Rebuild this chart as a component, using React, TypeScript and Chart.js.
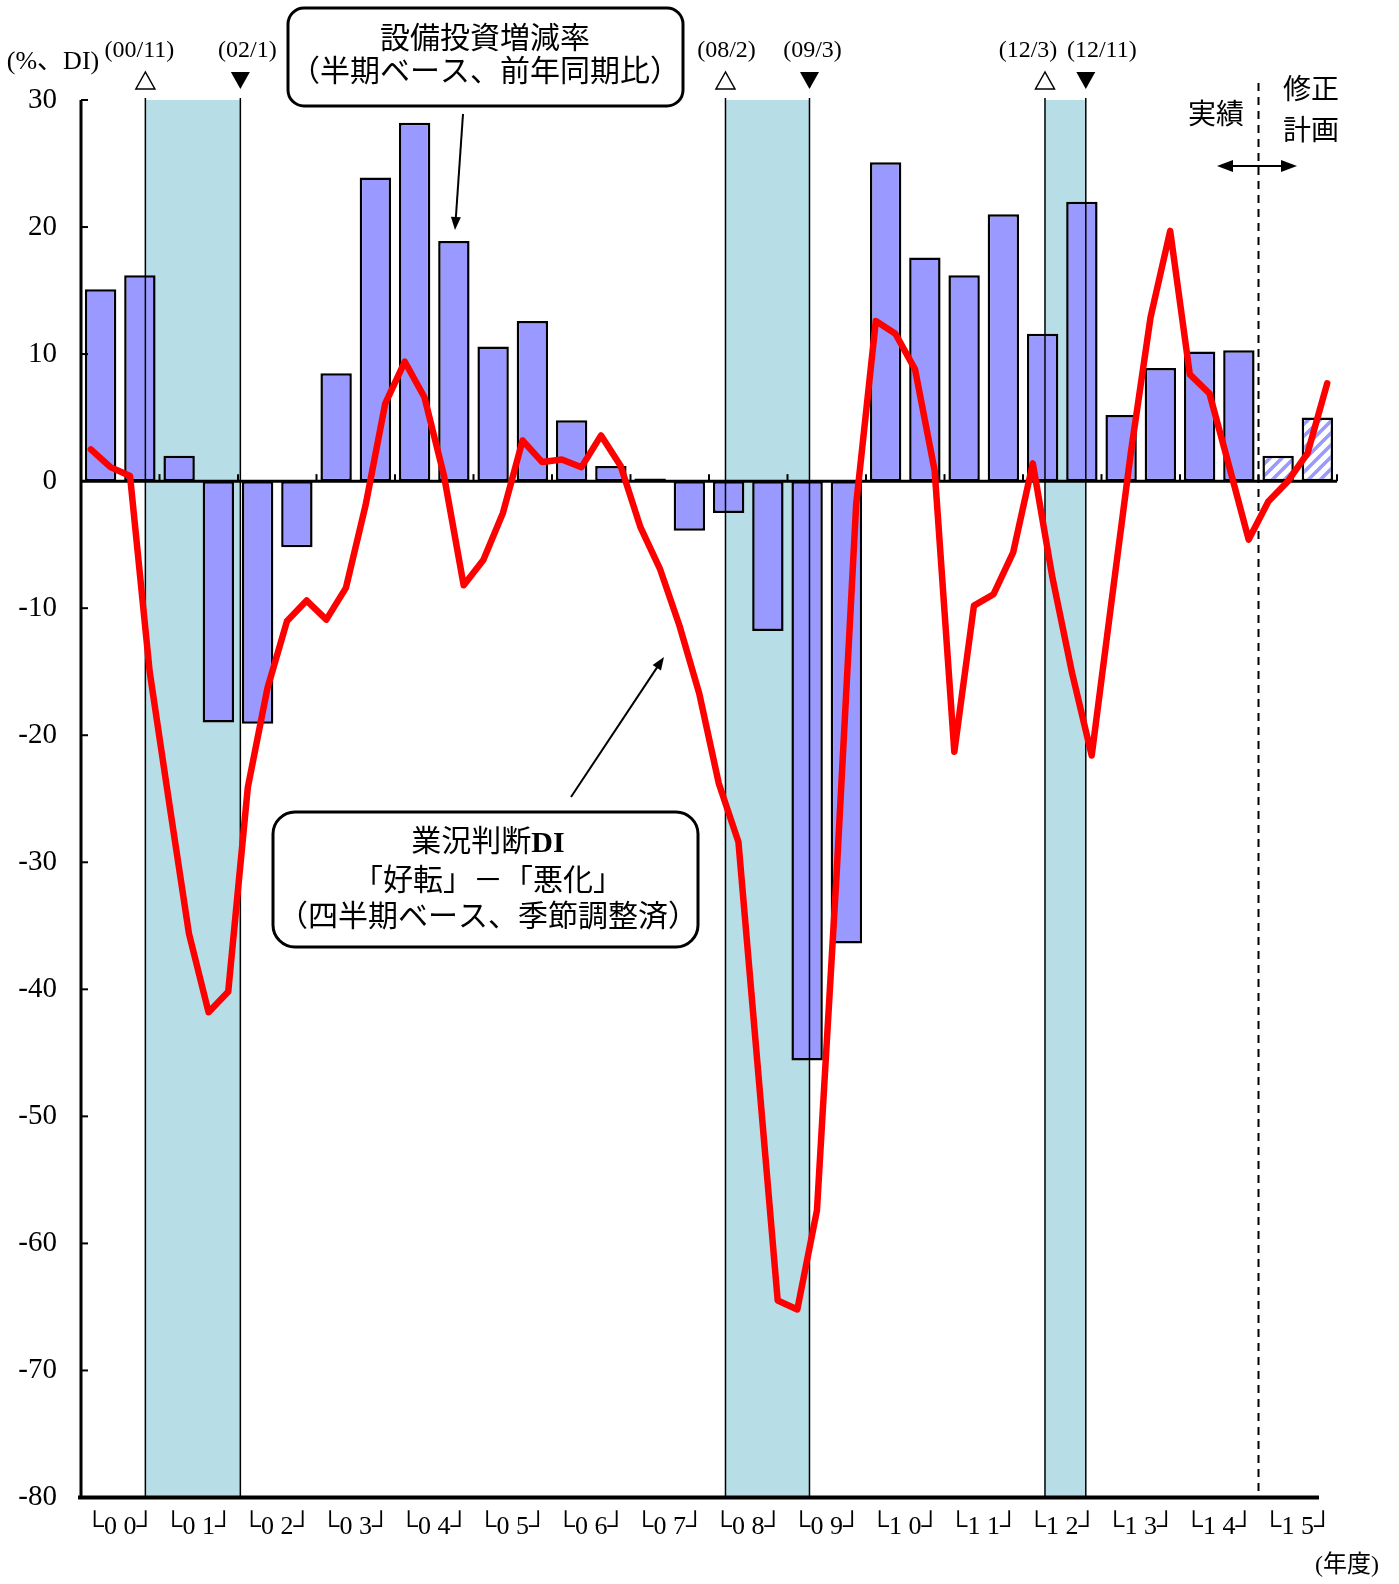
import React, { useEffect, useRef } from "react";
import { Chart, registerables } from "chart.js";

Chart.register(...registerables);

// ---------------- data ----------------
const fiscalYears = ["00", "01", "02", "03", "04", "05", "06", "07", "08", "09", "10", "11", "12", "13", "14", "15"];
const halfYearLabels = fiscalYears.flatMap((y) => [`${y}上期`, `${y}下期`]);
const quarterLabels = fiscalYears.flatMap((y) => [`${y}Q1`, `${y}Q2`, `${y}Q3`, `${y}Q4`]);
const yearTickLabels = fiscalYears.map((y) => `└${y[0]} ${y[1]}┘`);

// 設備投資増減率（半期ベース、前年同期比）
const capexGrowth = [
  15.1, 16.2, 2.0, -19.0, -19.1, -5.2, 8.5, 23.9, 28.2, 18.9,
  10.6, 12.6, 4.8, 1.2, 0.2, -3.9, -2.5, -11.8, -45.6, -36.4,
  25.1, 17.6, 16.2, 21.0, 11.6, 22.0, 5.2, 8.9, 10.2, 10.3,
  2.0, 5.0,
];
// half-years from this index onward are plans (修正計画)
const planFromHalf = 30;

// 業況判断DI（四半期ベース、季節調整済）
const businessDI = [
  2.5, 1.1, 0.4, -15.0, -25.4, -35.6, -41.8, -40.2, -24.1, -16.3,
  -11.0, -9.4, -10.9, -8.4, -1.9, 6.1, 9.4, 6.6, 0.4, -8.2,
  -6.2, -2.5, 3.2, 1.5, 1.7, 1.1, 3.6, 1.2, -3.6, -6.9,
  -11.4, -16.7, -23.8, -28.4, -46.4, -64.5, -65.2, -57.4, -31.0, -1.8,
  12.6, 11.6, 8.8, 0.8, -21.3, -9.8, -8.9, -5.6, 1.4, -7.6,
  -15.1, -21.6, -9.6, 2.3, 12.9, 19.7, 8.4, 6.9, 1.2, -4.6,
  -1.6, 0.0, 2.2, 7.7,
];

// recession periods, in fiscal-year units on the time axis (0 = start of FY2000)
const recessionStart = [0.82, 8.21, 12.28];
const recessionEnd = [2.03, 9.28, 12.8];
const peakLabels = ["(00/11)", "(08/2)", "(12/3)"];
const troughLabels = ["(02/1)", "(09/3)", "(12/11)"];
const planBoundary = 15; // 実績 | 修正計画

const yMin = -80;
const yMax = 30;
const yStep = 10;

// ---------------- styles ----------------
const W = 1399;
const H = 1584;
const SERIF = '"Liberation Serif", "DejaVu Serif", serif';
const MIXED = '"Liberation Serif", "Noto Sans CJK JP", sans-serif';
const BAR_COLOR = "#9999ff";
const SHADE = "#b7dde6";
const peakDx = [-6, 1, -17];
const troughDx = [7, 3, 16];

function roundBox(ctx: CanvasRenderingContext2D, x: number, y: number, w: number, h: number, r: number) {
  ctx.beginPath();
  ctx.moveTo(x + r, y);
  ctx.lineTo(x + w - r, y);
  ctx.arcTo(x + w, y, x + w, y + r, r);
  ctx.lineTo(x + w, y + h - r);
  ctx.arcTo(x + w, y + h, x + w - r, y + h, r);
  ctx.lineTo(x + r, y + h);
  ctx.arcTo(x, y + h, x, y + h - r, r);
  ctx.lineTo(x, y + r);
  ctx.arcTo(x, y, x + r, y, r);
  ctx.closePath();
}

function arrowHead(ctx: CanvasRenderingContext2D, x1: number, y1: number, x2: number, y2: number, len: number, half: number) {
  const ang = Math.atan2(y2 - y1, x2 - x1);
  const c = Math.cos(ang);
  const s = Math.sin(ang);
  ctx.beginPath();
  ctx.moveTo(x2, y2);
  ctx.lineTo(x2 - len * c + half * s, y2 - len * s - half * c);
  ctx.lineTo(x2 - len * c - half * s, y2 - len * s + half * c);
  ctx.closePath();
  ctx.fill();
}

function arrow(ctx: CanvasRenderingContext2D, x1: number, y1: number, x2: number, y2: number) {
  const ang = Math.atan2(y2 - y1, x2 - x1);
  ctx.beginPath();
  ctx.moveTo(x1, y1);
  ctx.lineTo(x2 - 8 * Math.cos(ang), y2 - 8 * Math.sin(ang));
  ctx.stroke();
  arrowHead(ctx, x1, y1, x2, y2, 13, 5);
}

const overlayPlugin = {
  id: "overlay",
  beforeDatasetsDraw(chart: any) {
    const { ctx, chartArea: a } = chart;
    const xr = chart.scales.xr;
    ctx.save();
    ctx.fillStyle = SHADE;
    recessionStart.forEach((s, i) => {
      const x1 = xr.getPixelForValue(s);
      const x2 = xr.getPixelForValue(recessionEnd[i]);
      ctx.fillRect(x1, a.top, x2 - x1, a.bottom - a.top);
    });
    ctx.restore();
  },
  afterDatasetDraw(chart: any, args: any) {
    if (args.index !== 0) return;
    const { ctx, chartArea: a } = chart;
    const xr = chart.scales.xr;
    const y = chart.scales.y;
    const y0 = y.getPixelForValue(0);
    ctx.save();
    ctx.strokeStyle = "#000";
    ctx.lineWidth = 1.5;
    [...recessionStart, ...recessionEnd].forEach((v) => {
      const x = xr.getPixelForValue(v);
      ctx.beginPath();
      ctx.moveTo(x, a.top - 2);
      ctx.lineTo(x, a.bottom);
      ctx.stroke();
    });
    // zero line
    ctx.lineWidth = 3;
    ctx.beginPath();
    ctx.moveTo(a.left, y0);
    ctx.lineTo(a.right, y0);
    ctx.stroke();
    // fiscal-year boundary ticks
    ctx.lineWidth = 2;
    for (let k = 1; k <= fiscalYears.length; k++) {
      const x = xr.getPixelForValue(k);
      ctx.beginPath();
      ctx.moveTo(x, y0);
      ctx.lineTo(x, y0 - 7);
      ctx.stroke();
    }
    // plan boundary (dashed)
    const xd = xr.getPixelForValue(planBoundary);
    ctx.setLineDash([8, 6]);
    ctx.lineWidth = 2;
    ctx.beginPath();
    ctx.moveTo(xd, a.top - 17);
    ctx.lineTo(xd, a.bottom);
    ctx.stroke();
    ctx.restore();
  },
  afterDraw(chart: any) {
    const { ctx, chartArea: a } = chart;
    const xr = chart.scales.xr;
    const y = chart.scales.y;
    ctx.save();
    ctx.strokeStyle = "#000";
    ctx.fillStyle = "#000";
    // y axis line + inward ticks
    ctx.lineWidth = 3;
    ctx.beginPath();
    ctx.moveTo(a.left, a.top);
    ctx.lineTo(a.left, a.bottom);
    ctx.stroke();
    ctx.lineWidth = 2;
    y.ticks.forEach((t: any) => {
      const py = y.getPixelForValue(t.value);
      ctx.beginPath();
      ctx.moveTo(a.left, py);
      ctx.lineTo(a.left + 7, py);
      ctx.stroke();
    });
    // bottom axis
    ctx.lineWidth = 4;
    ctx.beginPath();
    ctx.moveTo(a.left - 3, a.bottom);
    ctx.lineTo(a.right - 18, a.bottom);
    ctx.stroke();

    ctx.textAlign = "center";
    ctx.textBaseline = "middle";

    // unit label
    ctx.font = `26px ${MIXED}`;
    ctx.fillText("(%、DI)", 53, 62);

    // peak / trough markers
    ctx.font = `24px ${SERIF}`;
    recessionStart.forEach((v, i) => {
      const x = xr.getPixelForValue(v);
      ctx.fillText(peakLabels[i], x + peakDx[i], 51);
      ctx.beginPath();
      ctx.moveTo(x, 72);
      ctx.lineTo(x - 9.5, 89);
      ctx.lineTo(x + 9.5, 89);
      ctx.closePath();
      ctx.fillStyle = "#fff";
      ctx.fill();
      ctx.lineWidth = 1.5;
      ctx.stroke();
      ctx.fillStyle = "#000";
    });
    recessionEnd.forEach((v, i) => {
      const x = xr.getPixelForValue(v);
      ctx.fillText(troughLabels[i], x + troughDx[i], 51);
      ctx.beginPath();
      ctx.moveTo(x - 9.5, 72);
      ctx.lineTo(x + 9.5, 72);
      ctx.lineTo(x, 89);
      ctx.closePath();
      ctx.fill();
    });

    // capex label box
    ctx.lineWidth = 3;
    roundBox(ctx, 288, 8, 395, 98, 16);
    ctx.fillStyle = "#fff";
    ctx.fill();
    ctx.stroke();
    ctx.fillStyle = "#000";
    ctx.font = `30px ${MIXED}`;
    ctx.fillText("設備投資増減率", 485, 40);
    ctx.fillText("（半期ベース、前年同期比）", 485, 73);
    ctx.lineWidth = 2;
    arrow(ctx, 463, 114, 455, 230);

    // DI label box
    ctx.lineWidth = 3;
    roundBox(ctx, 273, 812, 425, 135, 22);
    ctx.fillStyle = "#fff";
    ctx.fill();
    ctx.stroke();
    ctx.fillStyle = "#000";
    ctx.font = `30px ${MIXED}`;
    const part1 = "業況判断";
    const w1 = ctx.measureText(part1).width;
    ctx.font = `bold 30px ${SERIF}`;
    const w2 = ctx.measureText("DI").width;
    const sx = 488 - (w1 + w2) / 2;
    ctx.textAlign = "left";
    ctx.font = `30px ${MIXED}`;
    ctx.fillText(part1, sx, 843);
    ctx.font = `bold 30px ${SERIF}`;
    ctx.fillText("DI", sx + w1, 844);
    ctx.textAlign = "center";
    ctx.font = `30px ${MIXED}`;
    ctx.fillText("「好転」－「悪化」", 488, 882);
    ctx.fillText("（四半期ベース、季節調整済）", 488, 918);
    ctx.lineWidth = 2;
    arrow(ctx, 571, 797, 664, 657);

    // 実績 / 修正計画
    ctx.font = `28px ${MIXED}`;
    ctx.fillText("実績", 1216, 117);
    ctx.fillText("修正", 1311, 92);
    ctx.fillText("計画", 1311, 133);
    ctx.lineWidth = 2;
    ctx.beginPath();
    ctx.moveTo(1222, 166);
    ctx.lineTo(1292, 166);
    ctx.stroke();
    arrowHead(ctx, 1257, 166, 1297, 166, 16, 6);
    arrowHead(ctx, 1257, 166, 1217, 166, 16, 6);

    // 年度
    ctx.font = `24px ${MIXED}`;
    ctx.fillText("(年度)", 1347, 1566);
    ctx.restore();
  },
};

export default function App() {
  const ref = useRef<HTMLCanvasElement>(null);

  useEffect(() => {
    const canvas = ref.current;
    if (!canvas) return;
    const pc = document.createElement("canvas");
    pc.width = 12;
    pc.height = 12;
    const p = pc.getContext("2d")!;
    p.fillStyle = "#fff";
    p.fillRect(0, 0, 12, 12);
    p.strokeStyle = BAR_COLOR;
    p.lineWidth = 3.5;
    [0, 12, 24].forEach((c) => {
      p.beginPath();
      p.moveTo(c - 14, 14);
      p.lineTo(c + 2, -2);
      p.stroke();
    });
    const pattern = canvas.getContext("2d")!.createPattern(pc, "repeat")!;
    const barFills = capexGrowth.map((_, i) => (i >= planFromHalf ? pattern : BAR_COLOR));

    const chart = new Chart(canvas, {
      type: "bar",
      data: {
        datasets: [
          {
            type: "bar",
            label: "設備投資増減率",
            data: capexGrowth,
            xAxisID: "xb",
            yAxisID: "y",
            backgroundColor: barFills as any,
            borderColor: "#000",
            borderWidth: 2.5,
            borderSkipped: false,
            barPercentage: 0.8,
            categoryPercentage: 1,
            grouped: false,
            order: 2,
          } as any,
          {
            type: "line",
            label: "業況判断DI",
            data: businessDI,
            xAxisID: "xq",
            yAxisID: "y",
            borderColor: "#ff0000",
            borderWidth: 6.5,
            pointRadius: 0,
            tension: 0,
            borderJoinStyle: "round",
            borderCapStyle: "round",
            fill: false,
            grouped: false,
            order: 1,
          } as any,
        ],
      },
      options: {
        responsive: false,
        animation: false,
        devicePixelRatio: 1,
        layout: { padding: { left: 0, top: 100, right: 62, bottom: 0 } },
        plugins: { legend: { display: false }, tooltip: { enabled: false }, title: { display: false } },
        scales: {
          xb: {
            type: "category",
            labels: halfYearLabels,
            offset: true,
            display: false,
            grid: { display: false },
          },
          xq: {
            type: "category",
            labels: quarterLabels,
            offset: true,
            display: false,
            grid: { display: false },
          },
          xr: {
            type: "linear",
            min: 0,
            max: fiscalYears.length,
            offset: false,
            display: false,
            grid: { display: false, offset: false },
          },
          xy: {
            type: "category",
            labels: yearTickLabels,
            offset: true,
            position: "bottom",
            grid: { display: false, drawTicks: false },
            border: { display: false },
            ticks: {
              color: "#000",
              font: { family: '"Liberation Serif", "DejaVu Sans", serif', size: 26 },
              padding: 14,
              autoSkip: false,
              maxRotation: 0,
            },
            afterFit: (s: any) => {
              s.height = H - 1497.5;
            },
          },
          y: {
            type: "linear",
            position: "left",
            min: yMin,
            max: yMax,
            ticks: {
              stepSize: yStep,
              color: "#000",
              font: { family: SERIF, size: 29 },
              padding: 24,
            },
            grid: { display: false, drawTicks: false },
            border: { display: false },
            afterFit: (s: any) => {
              s.width = 81;
            },
          },
        } as any,
      },
      plugins: [overlayPlugin],
    });
    return () => chart.destroy();
  }, []);

  return (
    <div style={{ position: "absolute", left: 0, top: 0, width: W, height: H, background: "#fff" }}>
      <canvas ref={ref} width={W} height={H} style={{ display: "block", width: W, height: H }} />
    </div>
  );
}
